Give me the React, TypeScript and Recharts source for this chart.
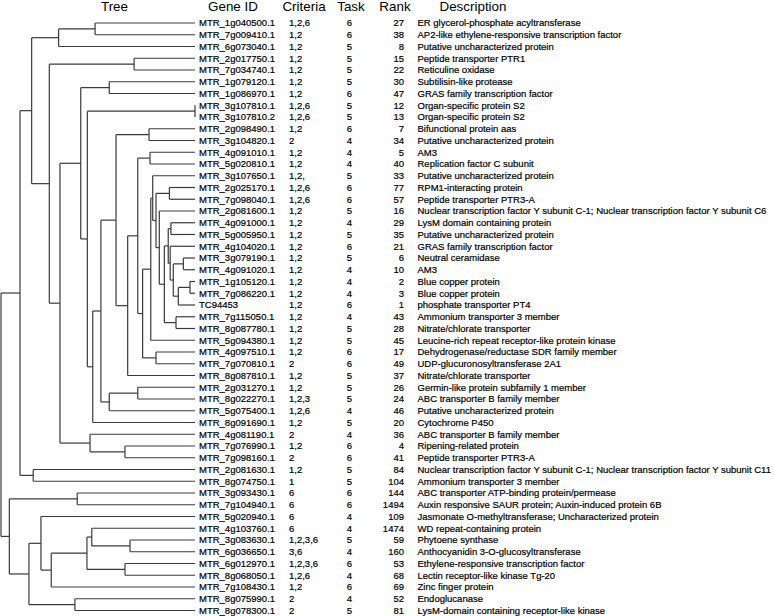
import { ScatterChart, Scatter, XAxis, YAxis, ReferenceLine } from "recharts";

const geneIds = [
  "MTR_1g040500.1", "MTR_7g009410.1", "MTR_6g073040.1", "MTR_2g017750.1", "MTR_7g034740.1",
  "MTR_1g079120.1", "MTR_1g086970.1", "MTR_3g107810.1", "MTR_3g107810.2", "MTR_2g098490.1",
  "MTR_3g104820.1", "MTR_4g091010.1", "MTR_5g020810.1", "MTR_3g107650.1", "MTR_2g025170.1",
  "MTR_7g098040.1", "MTR_2g081600.1", "MTR_4g091000.1", "MTR_5g005950.1", "MTR_4g104020.1",
  "MTR_3g079190.1", "MTR_4g091020.1", "MTR_1g105120.1", "MTR_7g086220.1", "TC94453",
  "MTR_7g115050.1", "MTR_8g087780.1", "MTR_5g094380.1", "MTR_4g097510.1", "MTR_7g070810.1",
  "MTR_8g087810.1", "MTR_2g031270.1", "MTR_8g022270.1", "MTR_5g075400.1", "MTR_8g091690.1",
  "MTR_4g081190.1", "MTR_7g076990.1", "MTR_7g098160.1", "MTR_2g081630.1", "MTR_8g074750.1",
  "MTR_3g093430.1", "MTR_7g104940.1", "MTR_5g020940.1", "MTR_4g103760.1", "MTR_3g083630.1",
  "MTR_6g036650.1", "MTR_6g012970.1", "MTR_8g068050.1", "MTR_7g108430.1", "MTR_8g075990.1",
  "MTR_8g078300.1",
];

const criteria = [
  "1,2,6", "1,2", "1,2", "1,2", "1,2", "1,2", "1,2", "1,2,6", "1,2,6", "1,2",
  "2", "1,2", "1,2", "1,2,", "1,2,6", "1,2,6", "1,2", "1,2", "1,2", "1,2",
  "1,2", "1,2", "1,2", "1,2", "1,2", "1,2", "1,2", "1,2", "1,2", "2",
  "1,2", "1,2", "1,2,3", "1,2,6", "1,2", "2", "1,2", "2", "1,2", "1",
  "6", "6", "6", "6", "1,2,3,6", "3,6", "1,2,3,6", "1,2,6", "1,2", "2",
  "2",
];

const tasks = [
  6, 6, 5, 5, 5, 5, 6, 5, 5, 6,
  4, 4, 4, 5, 6, 6, 5, 4, 5, 6,
  5, 4, 4, 4, 6, 4, 5, 5, 6, 6,
  5, 5, 5, 4, 5, 4, 6, 6, 5, 5,
  6, 6, 4, 4, 5, 4, 6, 4, 6, 4,
  5,
];

const ranks = [
  27, 38, 8, 15, 22, 30, 47, 12, 13, 7,
  34, 5, 40, 33, 77, 57, 16, 29, 35, 21,
  6, 10, 2, 3, 1, 43, 28, 45, 17, 49,
  37, 26, 24, 46, 20, 36, 4, 41, 84, 104,
  144, 1494, 109, 1474, 59, 160, 53, 68, 69, 52,
  81,
];

const descriptions = [
  "ER glycerol-phosphate acyltransferase",
  "AP2-like ethylene-responsive transcription factor",
  "Putative uncharacterized protein",
  "Peptide transporter PTR1",
  "Reticuline oxidase",
  "Subtilisin-like protease",
  "GRAS family transcription factor",
  "Organ-specific protein S2",
  "Organ-specific protein S2",
  "Bifunctional protein aas",
  "Putative uncharacterized protein",
  "AM3",
  "Replication factor C subunit",
  "Putative uncharacterized protein",
  "RPM1-interacting protein",
  "Peptide transporter PTR3-A",
  "Nuclear transcription factor Y subunit C-1; Nuclear transcription factor Y subunit C6",
  "LysM domain containing protein",
  "Putative uncharacterized protein",
  "GRAS family transcription factor",
  "Neutral ceramidase",
  "AM3",
  "Blue copper protein",
  "Blue copper protein",
  "phosphate transporter PT4",
  "Ammonium transporter 3 member",
  "Nitrate/chlorate transporter",
  "Leucine-rich repeat receptor-like protein kinase",
  "Dehydrogenase/reductase SDR family member",
  "UDP-glucuronosyltransferase 2A1",
  "Nitrate/chlorate transporter",
  "Germin-like protein subfamily 1 member",
  "ABC transporter B family member",
  "Putative uncharacterized protein",
  "Cytochrome P450",
  "ABC transporter B family member",
  "Ripening-related protein",
  "Peptide transporter PTR3-A",
  "Nuclear transcription factor Y subunit C-1; Nuclear transcription factor Y subunit C11",
  "Ammonium transporter 3 member",
  "ABC transporter ATP-binding protein/permease",
  "Auxin responsive SAUR protein; Auxin-induced protein 6B",
  "Jasmonate O-methyltransferase; Uncharacterized protein",
  "WD repeat-containing protein",
  "Phytoene synthase",
  "Anthocyanidin 3-O-glucosyltransferase",
  "Ethylene-responsive transcription factor",
  "Lectin receptor-like kinase Tg-20",
  "Zinc finger protein",
  "Endoglucanase",
  "LysM-domain containing receptor-like kinase",
];

const headers = ["Tree", "Gene ID", "Criteria", "Task", "Rank", "Description"];

// dendrogram: [merge height, left, right], leaves are row numbers
type Node = number | [number, Node, Node];
const tree: Node = [1.0,
  [0.902,
    [0.842,
      [0.703, [0.515, 1, 2], 3],
      [0.751,
        [0.314, 4, 5],
        [0.696,
          [0.589,
            [0.442, 6, 7],
            [0.555,
              [0, 8, 9],
              [0.527,
                [0.485,
                  [0.407,
                    [0.237, 10, 11],
                    [0.347,
                      [0.295,
                        [0.232, 12, 13],
                        [0.27,
                          [0.228,
                            [0.218,
                              14,
                              [0.201,
                                [0.132, 15, 16],
                                [0.184,
                                  17,
                                  [0.158,
                                    [0.138,
                                      [0.124, 18, 19],
                                      [0.128,
                                        20,
                                        [0.112,
                                          [0.06, 21, 22],
                                          [0.086, [0.026, 23, 24], 25]]]],
                                    [0.098, 26, 27]]]]],
                            28],
                          [0.201, 29, 30]]],
                      31]],
                  [0.442, [0.295, 32, 33], 34]],
                35]]],
          [0.541, 36, [0.361, 37, 38]]]]],
    [0.834, 39, 40]],
  [0.957,
    [0.607, 41, 42],
    [0.856,
      [0.794,
        43,
        [0.741,
          [0.557,
            [0.532, 44, [0.335, 45, 46]],
            [0.361, 47, 48]],
          49]],
      [0.619, 50, 51]]]];

type Seg = { x1: number; y1: number; x2: number; y2: number };

function walk(node: Node, segs: Seg[]): { h: number; row: number } {
  if (typeof node === "number") return { h: 0, row: node };
  const [h, a, b] = node;
  const l = walk(a, segs);
  const r = walk(b, segs);
  segs.push({ x1: h, y1: l.row, x2: h, y2: r.row });
  segs.push({ x1: h, y1: l.row, x2: l.h, y2: l.row });
  segs.push({ x1: h, y1: r.row, x2: r.h, y2: r.row });
  return { h, row: (l.row + r.row) / 2 };
}

const segments: Seg[] = [];
walk(tree, segments);

const rows = geneIds.map((_, i) => i + 1);
const leaves = rows.map((r) => ({ h: 0, row: r }));

const font = "'Liberation Sans', Arial, Helvetica, sans-serif";

const RowTick = ({ y, payload }: any) => {
  const i = payload.value - 1;
  return (
    <g fontFamily={font} fontSize={9.5} fill="#000" stroke="#000" strokeWidth={0.2}>
      <text x={199} y={y} dy="0.35em">{geneIds[i]}</text>
      <text x={289} y={y} dy="0.35em">{criteria[i]}</text>
      <text x={349.5} y={y} dy="0.35em" textAnchor="middle">{tasks[i]}</text>
      <text x={404} y={y} dy="0.35em" textAnchor="end">{ranks[i]}</text>
      <text x={417.5} y={y} dy="0.35em">{descriptions[i]}</text>
    </g>
  );
};

const headerX = [114.5, 233, 304, 351, 395, 473];

export default function App() {
  return (
    <div style={{ position: "absolute", left: 0, top: 0, width: 774, height: 616, background: "#fff" }}>
      <ScatterChart width={774} height={616} margin={{ top: 23, right: 0, bottom: 5.5, left: 1 }}>
        <XAxis type="number" dataKey="h" domain={[0, 1]} reversed hide />
        <YAxis
          type="number"
          dataKey="row"
          orientation="right"
          domain={[1, 51]}
          reversed
          ticks={rows}
          interval={0}
          width={579}
          axisLine={false}
          tickLine={false}
          tick={<RowTick />}
        />
        {segments.map((s, i) => (
          <ReferenceLine
            key={i}
            segment={[{ x: s.x1, y: s.y1 }, { x: s.x2, y: s.y2 }]}
            stroke="#3a3a3a"
            strokeWidth={1.2}
            ifOverflow="visible"
          />
        ))}
        <Scatter data={leaves} isAnimationActive={false} shape={() => <g />} />
      </ScatterChart>
      <svg width={774} height={20} style={{ position: "absolute", left: 0, top: 0 }}>
        {headers.map((t, i) => (
          <text key={t} x={headerX[i]} y={10.5} textAnchor="middle" fontFamily={font} fontSize={13.4} fill="#000">
            {t}
          </text>
        ))}
      </svg>
    </div>
  );
}
